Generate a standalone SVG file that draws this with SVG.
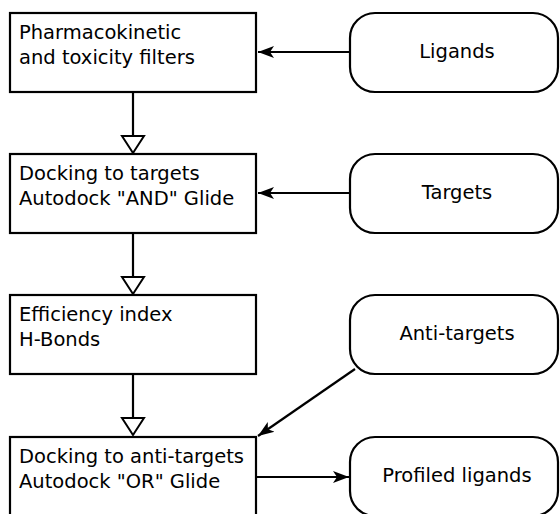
<svg xmlns="http://www.w3.org/2000/svg" width="560" height="514" viewBox="0 0 560 514">
<style>
.box{fill:#fff;stroke:#000;stroke-width:2.2}
.t{font-family:"DejaVu Sans",sans-serif;font-size:19.5px;fill:#000}
.c{text-anchor:middle}
.e{stroke:#000;stroke-width:2.2;fill:none}
</style>
<defs>
<marker id="open" markerWidth="24" markerHeight="26" refX="18" refY="13" orient="auto" markerUnits="userSpaceOnUse">
<path d="M1,2 L18,13 L1,24 Z" fill="#fff" stroke="#000" stroke-width="2"/>
</marker>
<marker id="sharp" markerWidth="20" markerHeight="14" refX="16" refY="7" orient="auto" markerUnits="userSpaceOnUse">
<path d="M0,1 L16,7 L0,13 L4,7 Z" fill="#000"/>
</marker>
</defs>
<rect width="560" height="514" fill="#fff"/>
<g id="connectors">
<line class="e" x1="133" y1="92" x2="133" y2="153" marker-end="url(#open)"/>
<line class="e" x1="133" y1="233" x2="133" y2="294" marker-end="url(#open)"/>
<line class="e" x1="133" y1="374" x2="133" y2="435" marker-end="url(#open)"/>
<line class="e" x1="350" y1="52" x2="258" y2="52" marker-end="url(#sharp)"/>
<line class="e" x1="350" y1="193" x2="258" y2="193" marker-end="url(#sharp)"/>
<line class="e" x1="355" y1="369" x2="258" y2="436" marker-end="url(#sharp)"/>
<line class="e" x1="257" y1="477" x2="349" y2="477" marker-end="url(#sharp)"/>
</g>
<g id="filters">
<rect class="box" x="10" y="13" width="246" height="79"/>
<text class="t" x="19" y="39">Pharmacokinetic</text>
<text class="t" x="19" y="64">and toxicity filters</text>
</g>
<g id="ligands">
<rect class="box" x="350" y="13" width="208" height="79" rx="25"/>
<text class="t c" x="457" y="58">Ligands</text>
</g>
<g id="docking-targets">
<rect class="box" x="10" y="154" width="246" height="79"/>
<text class="t" x="19" y="180">Docking to targets</text>
<text class="t" x="19" y="205">Autodock "AND" Glide</text>
</g>
<g id="targets">
<rect class="box" x="350" y="154" width="208" height="79" rx="25"/>
<text class="t c" x="457" y="199">Targets</text>
</g>
<g id="efficiency">
<rect class="box" x="10" y="295" width="246" height="79"/>
<text class="t" x="19" y="321">Efficiency index</text>
<text class="t" x="19" y="346">H-Bonds</text>
</g>
<g id="anti-targets">
<rect class="box" x="350" y="295" width="208" height="79" rx="25"/>
<text class="t c" x="457" y="340">Anti-targets</text>
</g>
<g id="docking-anti">
<rect class="box" x="10" y="437" width="246" height="79"/>
<text class="t" x="19" y="463">Docking to anti-targets</text>
<text class="t" x="19" y="488">Autodock "OR" Glide</text>
</g>
<g id="profiled">
<rect class="box" x="350" y="437" width="208" height="79" rx="25"/>
<text class="t c" x="457" y="482">Profiled ligands</text>
</g>
</svg>
